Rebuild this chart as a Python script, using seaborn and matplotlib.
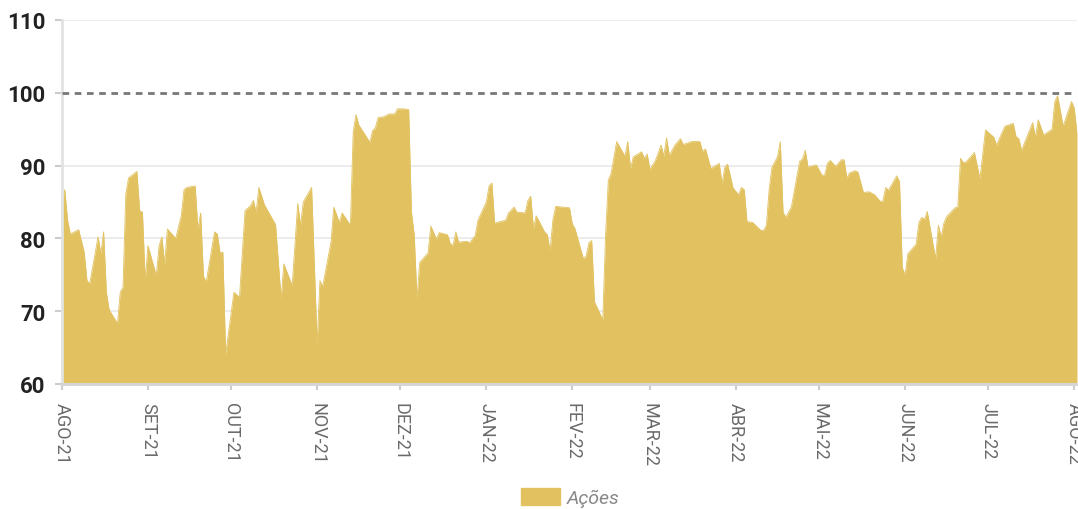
import pandas as pd
import matplotlib.pyplot as plt
import seaborn as sns

# --- Dados ---
datas = [
    '2021-08-01', '2021-08-02', '2021-08-03', '2021-08-04', '2021-08-07', '2021-08-09', '2021-08-10', '2021-08-11',
    '2021-08-14', '2021-08-15', '2021-08-16', '2021-08-17', '2021-08-18', '2021-08-21', '2021-08-22', '2021-08-23',
    '2021-08-24', '2021-08-25', '2021-08-28', '2021-08-29', '2021-08-30', '2021-08-31', '2021-09-01', '2021-09-04',
    '2021-09-05', '2021-09-06', '2021-09-07', '2021-09-08', '2021-09-11', '2021-09-13', '2021-09-14', '2021-09-15',
    '2021-09-18', '2021-09-19', '2021-09-20', '2021-09-21', '2021-09-22', '2021-09-25', '2021-09-26', '2021-09-27',
    '2021-09-28', '2021-09-29', '2021-10-02', '2021-10-04', '2021-10-06', '2021-10-08', '2021-10-09', '2021-10-10',
    '2021-10-11', '2021-10-13', '2021-10-17', '2021-10-19', '2021-10-20', '2021-10-23', '2021-10-25', '2021-10-26',
    '2021-10-27', '2021-10-30', '2021-11-01', '2021-11-02', '2021-11-03', '2021-11-06', '2021-11-07', '2021-11-09',
    '2021-11-10', '2021-11-13', '2021-11-14', '2021-11-15', '2021-11-16', '2021-11-20', '2021-11-21', '2021-11-22',
    '2021-11-23', '2021-11-25', '2021-11-27', '2021-11-29', '2021-11-30', '2021-12-02', '2021-12-04', '2021-12-05',
    '2021-12-06', '2021-12-07', '2021-12-08', '2021-12-11', '2021-12-12', '2021-12-14', '2021-12-15', '2021-12-18',
    '2021-12-19', '2021-12-20', '2021-12-21', '2021-12-22', '2021-12-25', '2021-12-26', '2021-12-28', '2021-12-29',
    '2022-01-01', '2022-01-02', '2022-01-03', '2022-01-04', '2022-01-08', '2022-01-09', '2022-01-11', '2022-01-12',
    '2022-01-15', '2022-01-16', '2022-01-17', '2022-01-18', '2022-01-19', '2022-01-22', '2022-01-23', '2022-01-24',
    '2022-01-25', '2022-01-26', '2022-01-31', '2022-02-01', '2022-02-02', '2022-02-05', '2022-02-06', '2022-02-07',
    '2022-02-08', '2022-02-09', '2022-02-12', '2022-02-13', '2022-02-14', '2022-02-15', '2022-02-17', '2022-02-20',
    '2022-02-21', '2022-02-22', '2022-02-23', '2022-02-26', '2022-02-27', '2022-02-28', '2022-03-01', '2022-03-03',
    '2022-03-05', '2022-03-06', '2022-03-07', '2022-03-08', '2022-03-10', '2022-03-12', '2022-03-13', '2022-03-16',
    '2022-03-19', '2022-03-20', '2022-03-21', '2022-03-23', '2022-03-26', '2022-03-27', '2022-03-28', '2022-03-29',
    '2022-03-31', '2022-04-02', '2022-04-03', '2022-04-04', '2022-04-05', '2022-04-07', '2022-04-10', '2022-04-11',
    '2022-04-12', '2022-04-13', '2022-04-14', '2022-04-16', '2022-04-17', '2022-04-18', '2022-04-19', '2022-04-21',
    '2022-04-24', '2022-04-25', '2022-04-26', '2022-04-27', '2022-04-30', '2022-05-02', '2022-05-03', '2022-05-04',
    '2022-05-05', '2022-05-07', '2022-05-09', '2022-05-10', '2022-05-11', '2022-05-12', '2022-05-14', '2022-05-15',
    '2022-05-17', '2022-05-19', '2022-05-21', '2022-05-23', '2022-05-24', '2022-05-25', '2022-05-26', '2022-05-29',
    '2022-05-30', '2022-05-31', '2022-06-01', '2022-06-02', '2022-06-05', '2022-06-06', '2022-06-07', '2022-06-08',
    '2022-06-09', '2022-06-12', '2022-06-13', '2022-06-14', '2022-06-15', '2022-06-16', '2022-06-19', '2022-06-20',
    '2022-06-21', '2022-06-22', '2022-06-23', '2022-06-26', '2022-06-28', '2022-06-30', '2022-07-03', '2022-07-04',
    '2022-07-05', '2022-07-07', '2022-07-10', '2022-07-11', '2022-07-12', '2022-07-13', '2022-07-17', '2022-07-18',
    '2022-07-19', '2022-07-21', '2022-07-24', '2022-07-25', '2022-07-26', '2022-07-28', '2022-07-31', '2022-08-01',
    '2022-08-02',
]
acoes = [
    85.0, 86.7, 82.5, 80.6, 81.2, 78.1, 74.2, 73.8,
    80.2, 77.9, 80.9, 72.6, 70.2, 68.3, 72.6, 73.3,
    86.1, 88.3, 89.2, 83.8, 83.6, 74.2, 79.0, 74.9,
    79.0, 80.2, 76.5, 81.3, 80.0, 83.1, 86.7, 87.0,
    87.2, 81.3, 83.5, 74.8, 74.0, 80.9, 80.6, 78.0,
    78.1, 64.1, 72.6, 71.9, 83.8, 84.5, 85.2, 83.6,
    87.0, 84.6, 81.9, 71.7, 76.5, 73.5, 84.8, 81.8,
    85.0, 87.0, 65.5, 74.2, 73.4, 79.5, 84.3, 82.2,
    83.5, 81.8, 94.6, 97.0, 95.6, 93.2, 94.8, 95.2,
    96.6, 96.7, 97.1, 97.1, 97.8, 97.8, 97.7, 83.6,
    80.5, 71.7, 76.7, 78.0, 81.7, 79.9, 80.8, 80.5,
    79.3, 79.0, 80.9, 79.5, 79.6, 79.4, 80.4, 82.5,
    85.0, 87.2, 87.6, 82.1, 82.5, 83.5, 84.3, 83.6,
    83.5, 85.2, 85.8, 81.4, 83.1, 80.9, 80.5, 78.3,
    82.5, 84.4, 84.2, 82.0, 81.3, 77.2, 77.6, 79.4,
    79.7, 71.3, 68.8, 80.4, 88.0, 88.9, 93.3, 91.3,
    93.3, 89.6, 91.2, 91.9, 91.0, 91.6, 89.5, 90.7,
    92.8, 91.3, 93.8, 91.4, 92.8, 93.7, 92.9, 93.3,
    93.3, 91.9, 92.3, 89.6, 90.3, 87.5, 89.8, 90.2,
    86.9, 86.0, 87.0, 86.7, 82.3, 82.2, 81.1, 81.1,
    81.8, 86.8, 89.8, 91.2, 93.3, 83.6, 82.9, 84.3,
    90.6, 90.9, 92.1, 89.8, 90.1, 88.7, 88.7, 90.3,
    90.7, 89.9, 90.8, 90.8, 88.3, 89.0, 89.3, 89.1,
    86.3, 86.4, 86.0, 85.1, 85.1, 87.0, 86.6, 88.6,
    87.8, 76.0, 75.0, 77.9, 79.2, 82.2, 82.9, 82.6,
    83.7, 77.2, 81.8, 80.2, 82.1, 83.0, 84.2, 84.3,
    91.0, 90.4, 90.5, 91.8, 88.2, 94.9, 93.9, 92.8,
    93.7, 95.4, 95.8, 94.0, 93.7, 92.1, 95.9, 93.9,
    96.3, 94.2, 95.0, 98.8, 99.6, 95.4, 98.8, 97.9,
    94.4,
]
meses = ['2021-08-01', '2021-09-01', '2021-10-01', '2021-11-01', '2021-12-01', '2022-01-01',
         '2022-02-01', '2022-03-01', '2022-04-01', '2022-05-01', '2022-06-01', '2022-07-01', '2022-08-01']
rotulos_meses = ['AGO-21', 'SET-21', 'OUT-21', 'NOV-21', 'DEZ-21', 'JAN-22', 'FEV-22',
                 'MAR-22', 'ABR-22', 'MAI-22', 'JUN-22', 'JUL-22', 'AGO-22']
y_ticks = [60, 70, 80, 90, 100, 110]
referencia = 100

COR = '#E2C260'

sns.set_theme(style='white')
plt.rcParams['font.family'] = ['Roboto', 'DejaVu Sans']

df = pd.DataFrame({'data': pd.to_datetime(datas), 'Ações': acoes})

fig = plt.figure(figsize=(10.78, 5.10), dpi=100)
ax = fig.add_axes([62 / 1078, 1 - 385 / 510, (1077 - 62) / 1078, (385 - 21) / 510])

# grid horizontal (sem o 100, que vira linha tracejada)
for v in y_ticks:
    if v not in (60, referencia):
        ax.axhline(v, color='#e9e9e9', lw=1.2, zorder=0)

sns.lineplot(data=df, x='data', y='Ações', color=COR, lw=0.6, ax=ax, legend=False, zorder=2)
ax.fill_between(df['data'], 60, df['Ações'], color=COR, lw=0, zorder=2, label='Ações')

ax.axhline(referencia, color='#777777', lw=2.0, ls=(0, (2.4, 2.0)), zorder=3)

ax.set_xlim(df['data'].iloc[0], df['data'].iloc[-1])
ax.set_ylim(60, 110)
ax.set_xlabel('')
ax.set_ylabel('')

ax.set_yticks(y_ticks)
ax.set_yticklabels([str(v) for v in y_ticks], fontsize=16, fontweight='bold', color='#222222')
ax.set_xticks(pd.to_datetime(meses))
ax.set_xticklabels(rotulos_meses, rotation=270, fontsize=13, color='#6a6a6a', va='top', ha='center')
ax.tick_params(axis='y', length=5, width=1.5, color='#cccccc', pad=7, left=True)
ax.tick_params(axis='x', length=4, width=1.5, color='#cccccc', pad=9, bottom=True)

for s in ['top', 'right']:
    ax.spines[s].set_visible(False)
ax.spines['left'].set_color('#e2e2e2')
ax.spines['left'].set_linewidth(2)
ax.spines['bottom'].set_color('#d5d5d5')
ax.spines['bottom'].set_linewidth(2.2)

leg = fig.legend(handles=[plt.Rectangle((0, 0), 1, 1, color=COR)], labels=['Ações'],
                 loc='lower center', bbox_to_anchor=(0.529, -0.03), frameon=False,
                 handlelength=2.0, handleheight=0.95, handletextpad=0.35,
                 prop={'size': 14, 'style': 'italic'})
for t in leg.get_texts():
    t.set_color('#888888')

fig.savefig('out.png', dpi=100)
